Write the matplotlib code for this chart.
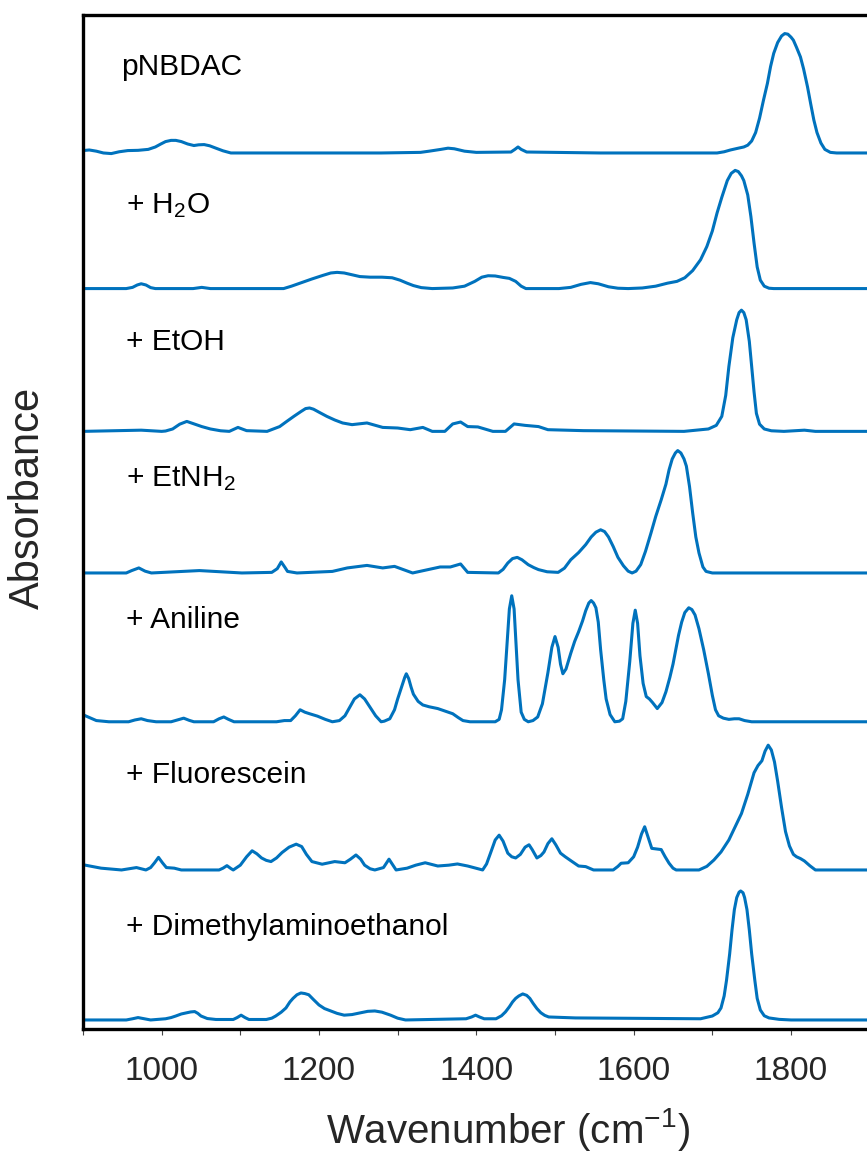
import matplotlib
matplotlib.use("Agg")
import matplotlib.pyplot as plt
from matplotlib.ticker import MultipleLocator

plt.rcParams["font.family"] = ["Liberation Sans", "DejaVu Sans"]
plt.rcParams["mathtext.default"] = "regular"

# FTIR spectra, wavenumber (cm-1) and absorbance above each trace's baseline
pnbdac_wn = [900, 908, 917, 926, 936, 946, 957, 970, 983, 992, 999, 1005, 1012, 1018, 1025,
             1033, 1041, 1047, 1054, 1061, 1069, 1078, 1088, 1177, 1279, 1329, 1340, 1355,
             1364, 1372, 1385, 1400, 1444, 1449, 1453, 1457, 1464, 1558, 1660, 1706, 1715,
             1723, 1733, 1740, 1745, 1750, 1755, 1760, 1765, 1770, 1774, 1778, 1783, 1788,
             1792, 1796, 1800, 1803, 1807, 1812, 1816, 1821, 1825, 1829, 1833, 1838, 1843,
             1850, 1858, 1900]
pnbdac_abs = [0.02, 0.025, 0.015, 0.0, -0.005, 0.01, 0.02, 0.022, 0.03, 0.05, 0.075, 0.095,
              0.105, 0.105, 0.095, 0.075, 0.062, 0.068, 0.07, 0.06, 0.04, 0.018, 0.0, 0.0, 0.0,
              0.005, 0.015, 0.03, 0.04, 0.035, 0.015, 0.005, 0.008, 0.03, 0.05, 0.03, 0.008,
              0.0, 0.0, 0.0, 0.01, 0.025, 0.04, 0.05, 0.065, 0.10, 0.17, 0.29, 0.44, 0.58,
              0.72, 0.83, 0.92, 0.975, 0.995, 0.99, 0.965, 0.94, 0.88, 0.80, 0.70, 0.55, 0.41,
              0.275, 0.17, 0.083, 0.03, 0.005, 0.0, 0.0]

h2o_wn = [900, 955, 963, 969, 974, 980, 986, 992, 1040, 1051, 1062, 1155, 1165, 1178, 1191,
          1205, 1215, 1223, 1232, 1242, 1252, 1265, 1280, 1293, 1303, 1312, 1320, 1330, 1344,
          1370, 1385, 1398, 1407, 1415, 1424, 1434, 1442, 1450, 1457, 1463, 1505, 1520, 1533,
          1545, 1555, 1568, 1580, 1593, 1611, 1628, 1643, 1655, 1665, 1675, 1685, 1693, 1700,
          1706, 1712, 1719, 1724, 1729, 1733, 1737, 1740, 1745, 1749, 1753, 1757, 1761, 1766,
          1772, 1778, 1900]
h2o_abs = [0.0, 0.0, 0.01, 0.03, 0.04, 0.03, 0.008, 0.0, 0.0, 0.01, 0.0, 0.0, 0.02, 0.05, 0.08,
           0.11, 0.13, 0.135, 0.13, 0.115, 0.10, 0.095, 0.095, 0.09, 0.07, 0.045, 0.025, 0.008,
           0.0, 0.005, 0.02, 0.06, 0.095, 0.107, 0.105, 0.093, 0.085, 0.06, 0.02, 0.0, 0.0,
           0.01, 0.035, 0.05, 0.04, 0.015, 0.003, 0.0, 0.005, 0.02, 0.045, 0.06, 0.09, 0.15,
           0.24, 0.35, 0.48, 0.63, 0.76, 0.90, 0.96, 0.985, 0.975, 0.94, 0.90, 0.78, 0.60, 0.38,
           0.18, 0.07, 0.02, 0.003, 0.0, 0.0]

etoh_wn = [900, 974, 1000, 1005, 1014, 1023, 1032, 1040, 1051, 1062, 1075, 1086, 1097, 1108,
           1134, 1150, 1159, 1168, 1177, 1183, 1188, 1193, 1200, 1210, 1220, 1230, 1242, 1261,
           1281, 1300, 1316, 1332, 1344, 1360, 1370, 1380, 1389, 1402, 1421, 1437, 1448, 1462,
           1479, 1491, 1536, 1664, 1695, 1705, 1712, 1717, 1721, 1726, 1731, 1734, 1737, 1740,
           1743, 1747, 1750, 1753, 1756, 1760, 1766, 1775, 1791, 1817, 1831, 1900]
etoh_abs = [0.0, 0.01, 0.0, 0.003, 0.02, 0.06, 0.083, 0.065, 0.04, 0.02, 0.005, 0.0, 0.033,
            0.006, 0.0, 0.04, 0.083, 0.125, 0.165, 0.19, 0.195, 0.185, 0.16, 0.125, 0.095, 0.07,
            0.056, 0.07, 0.033, 0.028, 0.014, 0.033, 0.0, 0.0, 0.062, 0.078, 0.04, 0.037, 0.0,
            0.0, 0.062, 0.05, 0.04, 0.014, 0.006, 0.0, 0.02, 0.05, 0.125, 0.30, 0.54, 0.78, 0.93,
            0.99, 1.01, 0.99, 0.93, 0.75, 0.54, 0.33, 0.15, 0.06, 0.02, 0.005, 0.0, 0.01, 0.0,
            0.0]

etnh2_wn = [900, 955, 962, 971, 979, 987, 1048, 1102, 1140, 1147, 1152, 1157, 1160, 1172, 1217,
            1236, 1261, 1281, 1296, 1319, 1354, 1367, 1380, 1389, 1428, 1434, 1440, 1446, 1452,
            1458, 1466, 1473, 1479, 1490, 1504, 1512, 1520, 1530, 1539, 1546, 1552, 1558, 1563,
            1568, 1574, 1580, 1587, 1593, 1598, 1603, 1609, 1615, 1622, 1628, 1635, 1641, 1645,
            1649, 1653, 1656, 1660, 1664, 1667, 1671, 1675, 1679, 1683, 1688, 1692, 1700, 1900]
etnh2_abs = [0.0, 0.0, 0.02, 0.042, 0.015, 0.0, 0.02, 0.0, 0.005, 0.036, 0.092, 0.044, 0.013,
             0.0, 0.013, 0.042, 0.063, 0.042, 0.055, 0.0, 0.05, 0.05, 0.075, 0.005, 0.0, 0.03,
             0.083, 0.12, 0.13, 0.11, 0.069, 0.045, 0.028, 0.01, 0.005, 0.04, 0.11, 0.17, 0.236,
             0.30, 0.34, 0.36, 0.345, 0.30, 0.22, 0.13, 0.06, 0.015, 0.0, 0.015, 0.07, 0.18,
             0.333, 0.47, 0.61, 0.74, 0.86, 0.95, 1.0, 1.02, 1.0, 0.95, 0.89, 0.72, 0.50, 0.30,
             0.167, 0.05, 0.013, 0.0, 0.0]

aniline_wn = [900, 903, 917, 933, 958, 966, 974, 982, 993, 1012, 1020, 1028, 1035, 1041, 1066,
              1073, 1079, 1085, 1092, 1146, 1156, 1164, 1170, 1176, 1182, 1188, 1198, 1208,
              1217, 1226, 1233, 1239, 1245, 1252, 1258, 1265, 1272, 1279, 1283, 1290, 1296,
              1300, 1305, 1309, 1311, 1314, 1317, 1320, 1326, 1332, 1340, 1351, 1360, 1370,
              1377, 1383, 1392, 1424, 1429, 1432, 1436, 1439, 1442, 1445, 1448, 1450, 1453,
              1457, 1461, 1466, 1472, 1478, 1484, 1491, 1496, 1500, 1504, 1507, 1510, 1514,
              1520, 1525, 1530, 1535, 1539, 1543, 1546, 1549, 1552, 1555, 1558, 1562, 1565,
              1570, 1576, 1582, 1586, 1590, 1595, 1599, 1602, 1605, 1608, 1612, 1616, 1620,
              1624, 1630, 1636, 1641, 1646, 1650, 1654, 1657, 1661, 1665, 1670, 1674, 1678,
              1683, 1689, 1695, 1700, 1704, 1708, 1714, 1721, 1728, 1734, 1741, 1750, 1900]
aniline_abs = [0.06, 0.05, 0.01, 0.0, 0.0, 0.015, 0.025, 0.01, 0.0, 0.0, 0.015, 0.03, 0.012,
               0.0, 0.0, 0.025, 0.04, 0.02, 0.0, 0.0, 0.01, 0.01, 0.05, 0.10, 0.08, 0.067, 0.047,
               0.02, 0.0, 0.01, 0.05, 0.12, 0.19, 0.225, 0.19, 0.12, 0.05, 0.0, 0.005, 0.025,
               0.10, 0.19, 0.29, 0.37, 0.40, 0.36, 0.29, 0.23, 0.17, 0.14, 0.125, 0.11, 0.09,
               0.067, 0.035, 0.01, 0.0, 0.0, 0.02, 0.10, 0.35, 0.64, 0.94, 1.05, 0.94, 0.70,
               0.35, 0.08, 0.02, 0.0, 0.01, 0.04, 0.15, 0.41, 0.62, 0.71, 0.62, 0.48, 0.40, 0.44,
               0.57, 0.67, 0.75, 0.84, 0.925, 0.99, 1.01, 0.99, 0.95, 0.83, 0.60, 0.35, 0.19,
               0.06, 0.0, 0.005, 0.025, 0.17, 0.50, 0.82, 0.93, 0.82, 0.55, 0.32, 0.21, 0.19,
               0.16, 0.11, 0.16, 0.25, 0.37, 0.48, 0.62, 0.72, 0.83, 0.91, 0.95, 0.935, 0.89,
               0.775, 0.60, 0.40, 0.22, 0.10, 0.05, 0.03, 0.02, 0.025, 0.025, 0.01, 0.0, 0.0]

fluor_wn = [900, 903, 923, 949, 968, 980, 986, 991, 996, 1001, 1006, 1016, 1025, 1073, 1078,
            1083, 1088, 1091, 1100, 1108, 1115, 1121, 1127, 1133, 1139, 1146, 1153, 1162, 1171,
            1178, 1184, 1191, 1204, 1220, 1233, 1240, 1247, 1253, 1258, 1265, 1271, 1282, 1286,
            1289, 1292, 1298, 1312, 1323, 1335, 1351, 1365, 1376, 1389, 1408, 1413, 1418, 1424,
            1429, 1434, 1440, 1445, 1450, 1456, 1462, 1467, 1471, 1477, 1482, 1486, 1491, 1496,
            1501, 1507, 1513, 1520, 1530, 1539, 1549, 1574, 1580, 1584, 1593, 1600, 1605, 1610,
            1614, 1618, 1623, 1629, 1635, 1640, 1645, 1650, 1654, 1683, 1693, 1702, 1711, 1721,
            1729, 1737, 1745, 1753, 1758, 1763, 1767, 1771, 1775, 1779, 1783, 1788, 1793, 1798,
            1803, 1807, 1812, 1817, 1824, 1831, 1900]
fluor_abs = [0.045, 0.04, 0.015, 0.0, 0.02, 0.0, 0.02, 0.06, 0.105, 0.06, 0.02, 0.015, 0.0, 0.0,
             0.015, 0.036, 0.012, 0.0, 0.04, 0.11, 0.16, 0.135, 0.10, 0.08, 0.07, 0.10, 0.145,
             0.19, 0.215, 0.195, 0.13, 0.07, 0.048, 0.07, 0.06, 0.09, 0.125, 0.09, 0.04, 0.01,
             0.0, 0.02, 0.06, 0.09, 0.06, 0.0, 0.015, 0.04, 0.06, 0.033, 0.04, 0.05, 0.033, 0.0,
             0.05, 0.14, 0.25, 0.29, 0.24, 0.14, 0.11, 0.10, 0.13, 0.19, 0.21, 0.17, 0.10, 0.12,
             0.15, 0.22, 0.26, 0.21, 0.14, 0.11, 0.078, 0.033, 0.028, 0.0, 0.0, 0.03, 0.056,
             0.06, 0.11, 0.19, 0.30, 0.36, 0.28, 0.18, 0.175, 0.17, 0.11, 0.056, 0.015, 0.0, 0.0,
             0.03, 0.083, 0.15, 0.25, 0.36, 0.47, 0.63, 0.81, 0.87, 0.91, 0.99, 1.04, 1.0, 0.90,
             0.74, 0.52, 0.32, 0.20, 0.13, 0.11, 0.095, 0.075, 0.035, 0.0, 0.0]

dmae_wn = [900, 955, 963, 970, 978, 986, 1005, 1012, 1018, 1025, 1032, 1037, 1042, 1046, 1050,
           1058, 1069, 1091, 1096, 1101, 1106, 1111, 1133, 1140, 1145, 1152, 1158, 1163, 1167,
           1172, 1177, 1182, 1187, 1193, 1200, 1207, 1215, 1223, 1232, 1242, 1253, 1262, 1271,
           1280, 1291, 1300, 1310, 1387, 1394, 1399, 1404, 1410, 1425, 1432, 1437, 1442, 1446,
           1450, 1454, 1459, 1464, 1468, 1472, 1477, 1482, 1487, 1492, 1526, 1685, 1700, 1707,
           1711, 1715, 1718, 1722, 1725, 1728, 1731, 1734, 1736, 1739, 1741, 1744, 1747, 1750,
           1754, 1757, 1761, 1766, 1772, 1785, 1800, 1900]
dmae_abs = [0.0, 0.0, 0.01, 0.02, 0.01, 0.0, 0.01, 0.02, 0.033, 0.05, 0.06, 0.067, 0.07, 0.055,
            0.033, 0.012, 0.004, 0.004, 0.02, 0.04, 0.02, 0.004, 0.004, 0.015, 0.033, 0.065, 0.10,
            0.15, 0.18, 0.21, 0.225, 0.22, 0.21, 0.17, 0.125, 0.095, 0.075, 0.055, 0.04, 0.045,
            0.06, 0.072, 0.075, 0.065, 0.04, 0.015, 0.0, 0.01, 0.025, 0.04, 0.025, 0.01, 0.01,
            0.035, 0.067, 0.11, 0.15, 0.18, 0.20, 0.217, 0.205, 0.18, 0.14, 0.095, 0.06, 0.038,
            0.025, 0.017, 0.01, 0.033, 0.06, 0.10, 0.20, 0.33, 0.55, 0.75, 0.92, 1.02, 1.065,
            1.075, 1.06, 1.02, 0.92, 0.75, 0.55, 0.33, 0.18, 0.083, 0.035, 0.017, 0.005, 0.0, 0.0]

labels = ["pNBDAC", "+ H$_2$O", "+ EtOH", "+ EtNH$_2$", "+ Aniline", "+ Fluorescein",
          "+ Dimethylaminoethanol"]
offsets = [7.30, 6.17, 4.98, 3.80, 2.56, 1.325, 0.075]
label_y = [7.95, 6.80, 5.66, 4.525, 3.34, 2.05, 0.78]
label_x = [948, 955, 955, 955, 955, 955, 955]

spectra = [(pnbdac_wn, pnbdac_abs), (h2o_wn, h2o_abs), (etoh_wn, etoh_abs),
           (etnh2_wn, etnh2_abs), (aniline_wn, aniline_abs), (fluor_wn, fluor_abs),
           (dmae_wn, dmae_abs)]

fig = plt.figure(figsize=(8.67, 11.52), dpi=100)
ax = fig.add_axes([0.0957, 0.1068, 0.9074, 0.8802])

for (wn, a), off, lab, lx, ly in zip(spectra, offsets, labels, label_x, label_y):
    ax.plot(wn, [v + off for v in a], color="#0072BD", lw=2.2,
            solid_joinstyle="round", solid_capstyle="round")
    ax.text(lx, ly, lab, fontsize=21.5, color="black", va="baseline", ha="left")

ax.set_xlim(900, 1900)
ax.set_ylim(0, 8.45)

ax.xaxis.set_major_locator(MultipleLocator(200))
ax.xaxis.set_minor_locator(MultipleLocator(100))
ax.tick_params(axis="x", which="both", direction="out", length=4.5, width=0.8,
               color="#444444", labelcolor="#262626", labelsize=24, pad=15, top=False)
ax.set_yticks([])

for side in ["left", "right", "top", "bottom"]:
    ax.spines[side].set_linewidth(2.4)
    ax.spines[side].set_color("black")

ax.set_xlabel("Wavenumber (cm$^{-1}$)", fontsize=29, color="#262626")
ax.xaxis.set_label_coords(0.540, -0.076)
ax.set_ylabel("Absorbance", fontsize=30, color="#262626", va="center")
ax.yaxis.set_label_coords(-0.070, 0.524)

fig.savefig("out.png", dpi=100)
